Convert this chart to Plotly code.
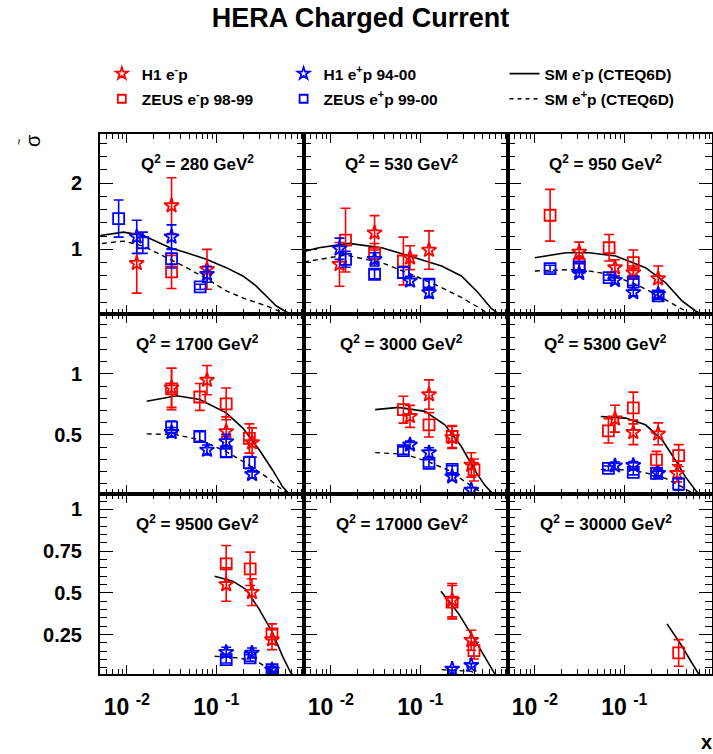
import plotly.graph_objects as go
from plotly.subplots import make_subplots

Q2 = [280, 530, 950, 1700, 3000, 5300, 9500, 17000, 30000]

# H1 e-p (red stars)
H1_EM_X = [[0.0129, 0.0316, 0.0787], [0.0125, 0.0308, 0.0767, 0.125], [0.0313, 0.0787, 0.126, 0.239],
           [0.0316, 0.0787, 0.129, 0.251], [0.0767, 0.125, 0.227, 0.371], [0.0787, 0.126, 0.239, 0.388],
           [0.129, 0.25, 0.419], [0.227, 0.371], []]
H1_EM_Y = [[0.79, 1.66, 0.70], [0.775, 1.25, 0.875, 0.99], [0.96, 0.725, 0.65, 0.56],
           [0.885, 0.948, 0.527, 0.437], [0.651, 0.83, 0.478, 0.253], [0.632, 0.52, 0.508, 0.184],
           [0.55, 0.504, 0.22], [0.456, 0.216], []]
H1_EM_ERR = [[0.45, 0.42, 0.3], [0.33, 0.26, 0.18, 0.29], [0.15, 0.12, 0.1, 0.19],
             [0.16, 0.12, 0.12, 0.12], [0.09, 0.12, 0.09, 0.1], [0.11, 0.1, 0.09, 0.07],
             [0.1, 0.08, 0.06], [0.1, 0.06], []]

# H1 e+p 94-00 (blue stars)
H1_EP_X = [[0.0129, 0.0316, 0.0787], [0.0125, 0.0308, 0.0767, 0.125], [0.0313, 0.0787, 0.126, 0.239],
           [0.0316, 0.0787, 0.129, 0.251], [0.0767, 0.125, 0.227, 0.371], [0.0787, 0.126, 0.239],
           [0.129, 0.25, 0.419], [0.227, 0.371], []]
H1_EP_Y = [[1.19, 1.19, 0.625], [1.01, 0.85, 0.525, 0.35], [0.64, 0.535, 0.35, 0.325],
           [0.52, 0.376, 0.445, 0.176], [0.418, 0.354, 0.157, 0.047], [0.247, 0.25, 0.184],
           [0.144, 0.14, 0.04], [0.044, 0.066], []]
H1_EP_ERR = [[0.25, 0.18, 0.12], [0.16, 0.1, 0.07, 0.08], [0.05, 0.05, 0.05, 0.05],
             [0.04, 0.04, 0.06, 0.03], [0.03, 0.04, 0.03, 0.02], [0.03, 0.03, 0.03],
             [0.03, 0.03, 0.02], [0.01, 0.01], []]

# ZEUS e-p 98-99 (red squares)
ZEUS_EM_X = [[0.0316], [0.0146, 0.0308, 0.0647], [0.0148, 0.0313, 0.0676, 0.126],
             [0.0316, 0.0653, 0.129, 0.234], [0.0647, 0.125, 0.227, 0.398], [0.0664, 0.126, 0.229, 0.405],
             [0.129, 0.239, 0.419], [0.227, 0.398], [0.405]]
ZEUS_EM_Y = [[0.66], [1.14, 0.94, 0.825], [1.515, 0.775, 1.025, 0.8],
             [0.876, 0.81, 0.753, 0.47], [0.706, 0.582, 0.486, 0.212], [0.533, 0.72, 0.294, 0.33],
             [0.674, 0.644, 0.254], [0.444, 0.154], [0.14]]
ZEUS_EM_ERR = [[0.25], [0.48, 0.15, 0.36], [0.39, 0.1, 0.2, 0.19],
               [0.17, 0.11, 0.13, 0.12], [0.11, 0.1, 0.09, 0.09], [0.1, 0.13, 0.07, 0.09],
               [0.11, 0.1, 0.06], [0.1, 0.05], [0.08]]

# ZEUS e+p 99-00 (blue squares)
ZEUS_EP_X = [[0.0081, 0.0151, 0.0316, 0.066], [0.0146, 0.0308, 0.0647, 0.125], [0.0148, 0.0313, 0.0676, 0.126, 0.239],
             [0.0316, 0.0653, 0.129, 0.234], [0.0647, 0.125, 0.227], [0.0664, 0.126, 0.229, 0.405],
             [0.129, 0.239, 0.419], [], []]
ZEUS_EP_Y = [[1.465, 1.1, 0.86, 0.435], [0.85, 0.625, 0.65, 0.475], [0.71, 0.735, 0.575, 0.51, 0.3],
             [0.563, 0.486, 0.36, 0.272], [0.371, 0.266, 0.217], [0.225, 0.192, 0.184, 0.096],
             [0.1, 0.11, 0.04], [], []]
ZEUS_EP_ERR = [[0.28, 0.16, 0.14, 0.04], [0.12, 0.07, 0.08, 0.07], [0.05, 0.05, 0.04, 0.05, 0.05],
               [0.05, 0.04, 0.04, 0.05], [0.03, 0.03, 0.03], [0.02, 0.02, 0.02, 0.05],
               [0.02, 0.02, 0.01], [], []]

# SM e-p (CTEQ6D), solid
SM_EM_X = [[0.00506, 0.00918, 0.0153, 0.0303, 0.0465, 0.0774, 0.129, 0.198, 0.278, 0.36, 0.465, 0.6, 0.74],
           [0.00501, 0.00736, 0.01585, 0.0371, 0.0873, 0.1726, 0.2877, 0.4408, 0.6207, 0.7356, 0.80],
           [0.01, 0.0223, 0.0404, 0.0801, 0.1726, 0.2877, 0.4408, 0.6207, 0.767],
           [0.01668, 0.036, 0.0653, 0.129, 0.198, 0.303, 0.4266, 0.551, 0.681],
           [0.0313, 0.057, 0.1127, 0.188, 0.2877, 0.4046, 0.5236, 0.676],
           [0.0546, 0.1035, 0.1726, 0.2644, 0.3715, 0.48, 0.6207, 0.705],
           [0.0958, 0.1531, 0.2154, 0.303, 0.4266, 0.551, 0.681, 0.741],
           [0.1698, 0.2644, 0.4046, 0.57, 0.705],
           [0.3006, 0.4408, 0.57, 0.705]]
SM_EM_Y = [[1.21, 1.26, 1.21, 1.025, 0.95, 0.85, 0.725, 0.6, 0.45, 0.3, 0.15, 0.06, 0.0],
           [0.97, 1.025, 1.09, 1.025, 0.875, 0.75, 0.6, 0.35, 0.11, 0.035, 0.0],
           [0.875, 0.95, 0.95, 0.9, 0.725, 0.5, 0.225, 0.075, 0.0],
           [0.775, 0.82, 0.79, 0.68, 0.555, 0.376, 0.21, 0.074, 0.0],
           [0.706, 0.725, 0.692, 0.582, 0.404, 0.211, 0.088, 0.0],
           [0.65, 0.637, 0.582, 0.459, 0.294, 0.157, 0.047, 0.0],
           [0.6, 0.57, 0.52, 0.4, 0.26, 0.12, 0.02, 0.0],
           [0.51, 0.38, 0.22, 0.08, 0.0],
           [0.314, 0.18, 0.08, 0.0]]

# SM e+p (CTEQ6D), dashed
SM_EP_X = [[0.00528, 0.00918, 0.0153, 0.0303, 0.0465, 0.0774, 0.129, 0.215, 0.36, 0.551, 0.653],
           [0.00501, 0.01455, 0.0371, 0.0873, 0.1726, 0.2877, 0.48, 0.61],
           [0.01, 0.0313, 0.0676, 0.1337, 0.2427, 0.4046, 0.594],
           [0.01668, 0.036, 0.0653, 0.129, 0.2154, 0.36, 0.551, 0.681],
           [0.0313, 0.0676, 0.1227, 0.2047, 0.341, 0.46, 0.546],
           [0.0546, 0.1227, 0.2047, 0.2877, 0.4408, 0.57, 0.647],
           [0.0958, 0.1816, 0.303, 0.4266, 0.484],
           [0.1726, 0.3715, 0.48],
           []]
SM_EP_Y = [[1.09, 1.125, 1.05, 0.85, 0.725, 0.56, 0.375, 0.25, 0.15, 0.05, 0.0],
           [0.81, 0.915, 0.8, 0.6, 0.425, 0.275, 0.1, 0.0],
           [0.675, 0.7, 0.625, 0.475, 0.3, 0.125, 0.0],
           [0.508, 0.5, 0.459, 0.362, 0.266, 0.157, 0.047, 0.0],
           [0.354, 0.341, 0.28, 0.211, 0.1, 0.033, 0.0],
           [0.217, 0.211, 0.176, 0.143, 0.074, 0.025, 0.0],
           [0.12, 0.11, 0.08, 0.03, 0.0],
           [0.04, 0.03, 0.0],
           []]

ROW_YRANGE = [[0.026, 2.74], [0.015, 1.49], [0.014, 1.092]]
ROW_DTICK = [1, 0.5, 0.25]
ROW_MINOR = [0.2, 0.1, 0.05]
X_TICKS = [0.01, 0.1, 1]
X_TICKTEXT = ["10 <sup>-2</sup>", "10 <sup>-1</sup>", ""]
X_MINOR = [m * d for d in (0.001, 0.01, 0.1) for m in range(2, 10)]

RED = "#ff0000"
BLUE = "#0000ff"
FONT = "Liberation Sans"

fig = make_subplots(rows=3, cols=3, horizontal_spacing=0, vertical_spacing=0)

series = [
    ("H1 e<sup>-</sup>p", H1_EM_X, H1_EM_Y, H1_EM_ERR, RED, "star-open", "legend", "g1"),
    ("ZEUS e<sup>-</sup>p 98-99", ZEUS_EM_X, ZEUS_EM_Y, ZEUS_EM_ERR, RED, "square-open", "legend", "g2"),
    ("H1 e<sup>+</sup>p 94-00", H1_EP_X, H1_EP_Y, H1_EP_ERR, BLUE, "star-open", "legend2", "g3"),
    ("ZEUS e<sup>+</sup>p 99-00", ZEUS_EP_X, ZEUS_EP_Y, ZEUS_EP_ERR, BLUE, "square-open", "legend2", "g4"),
]

# legend-only entries (small symbols as in the reference legend)
for name, xs, ys, es, col, sym, leg, grp in series:
    fig.add_trace(go.Scatter(x=[None], y=[None], mode="markers",
                             marker=dict(symbol=sym, size=9 if "star" in sym else 8, color=col,
                                         line=dict(width=1.8, color=col)),
                             name=name, legend=leg, legendgroup=grp, showlegend=True), row=1, col=1)
fig.add_trace(go.Scatter(x=[None], y=[None], mode="lines", line=dict(color="black", width=1.6),
                         name="SM e<sup>-</sup>p (CTEQ6D)", legend="legend3", legendgroup="g5"), row=1, col=1)
fig.add_trace(go.Scatter(x=[None], y=[None], mode="lines", line=dict(color="black", width=1.4, dash="4px,4px"),
                         name="SM e<sup>+</sup>p (CTEQ6D)", legend="legend3", legendgroup="g6"), row=1, col=1)

for i in range(9):
    r, c = i // 3 + 1, i % 3 + 1
    fig.add_trace(go.Scatter(x=SM_EM_X[i], y=SM_EM_Y[i], mode="lines",
                             line=dict(color="black", width=1.6),
                             name="SM e<sup>-</sup>p (CTEQ6D)", showlegend=False), row=r, col=c)
    fig.add_trace(go.Scatter(x=SM_EP_X[i], y=SM_EP_Y[i], mode="lines",
                             line=dict(color="black", width=1.4, dash="5px,4px"),
                             name="SM e<sup>+</sup>p (CTEQ6D)", showlegend=False), row=r, col=c)
    for name, xs, ys, es, col, sym, leg, grp in series:
        fig.add_trace(go.Scatter(x=xs[i] if xs[i] else [None], y=ys[i] if ys[i] else [None],
                                 mode="markers",
                                 marker=dict(symbol=sym, size=11, color=col, line=dict(width=1.8, color=col)),
                                 error_y=dict(type="data", array=es[i], color=col, thickness=1.6, width=5),
                                 name=name, showlegend=False),
                      row=r, col=c)
    fig.add_annotation(text="Q<sup>2</sup> = %d GeV<sup>2</sup>" % Q2[i],
                       xref="x%s domain" % ("" if i == 0 else i + 1),
                       yref="y%s domain" % ("" if i == 0 else i + 1),
                       x=0.48, y=0.839, showarrow=False, xanchor="center", yanchor="middle",
                       font=dict(family=FONT, size=17, color="black", weight="bold"))

for i in range(9):
    r, c = i // 3 + 1, i % 3 + 1
    fig.update_xaxes(type="log", range=[-2.3, -0.02], tickmode="array", tickvals=X_TICKS,
                     ticktext=X_TICKTEXT, ticks="inside", ticklen=9, tickwidth=1.3, tickcolor="black",
                     minor=dict(tickmode="array", tickvals=X_MINOR, ticks="inside", ticklen=5,
                                tickwidth=1.2, tickcolor="black", showgrid=False),
                     showline=True, linewidth=2, linecolor="black", mirror="allticks",
                     showgrid=False, zeroline=False, showticklabels=(r == 3),
                     ticklabelstandoff=11,
                     tickfont=dict(family=FONT, size=23, color="black", weight="bold"),
                     row=r, col=c)
    fig.update_yaxes(range=ROW_YRANGE[r - 1], dtick=ROW_DTICK[r - 1], tick0=0,
                     ticks="inside", ticklen=13, tickwidth=1.3, tickcolor="black",
                     minor=dict(dtick=ROW_MINOR[r - 1], tick0=0, ticks="inside", ticklen=7,
                                tickwidth=1.2, tickcolor="black", showgrid=False),
                     showline=True, linewidth=2, linecolor="black", mirror="allticks",
                     showgrid=False, zeroline=False, showticklabels=(c == 1),
                     ticklabelstandoff=12,
                     tickfont=dict(family=FONT, size=20, color="black", weight="bold"),
                     row=r, col=c)

legend_common = dict(orientation="v", bgcolor="rgba(0,0,0,0)", borderwidth=0,
                     font=dict(family=FONT, size=15.5, color="black", weight="bold"),
                     tracegroupgap=2, yanchor="top", xanchor="left", y=(674 - 57) / 540)

fig.add_annotation(text="σ", xref="paper", yref="paper", x=(33 - 100) / 612, y=(674 - 141) / 540,
                   xanchor="center", yanchor="middle",
                   showarrow=False, textangle=-90, font=dict(family=FONT, size=20, color="black"))
fig.add_annotation(text="~", xref="paper", yref="paper", x=(19 - 100) / 612, y=(674 - 142) / 540,
                   xanchor="center", yanchor="middle",
                   showarrow=False, textangle=-90, font=dict(family=FONT, size=11, color="black"))
fig.add_annotation(text="<b>x</b>", xref="paper", yref="paper", x=(706 - 100) / 612, y=(674 - 742) / 540,
                   xanchor="center", yanchor="middle",
                   showarrow=False, font=dict(family=FONT, size=20, color="black"))

fig.update_layout(
    width=713, height=754,
    margin=dict(l=100, r=1, t=134, b=80, autoexpand=False),
    paper_bgcolor="white", plot_bgcolor="white",
    title=dict(text="<b>HERA Charged Current</b>", x=0.5056, xref="container", xanchor="center",
               y=1 - 18 / 754, yref="container", yanchor="middle",
               font=dict(family=FONT, size=27, color="black")),
    legend=dict(x=0.003, **legend_common),
    legend2=dict(x=0.30, **legend_common),
    legend3=dict(x=0.661, **legend_common),
)

fig.write_html("out.html", config={"displayModeBar": False},
               post_script="document.body.style.margin='0';document.body.style.overflow='hidden';")
